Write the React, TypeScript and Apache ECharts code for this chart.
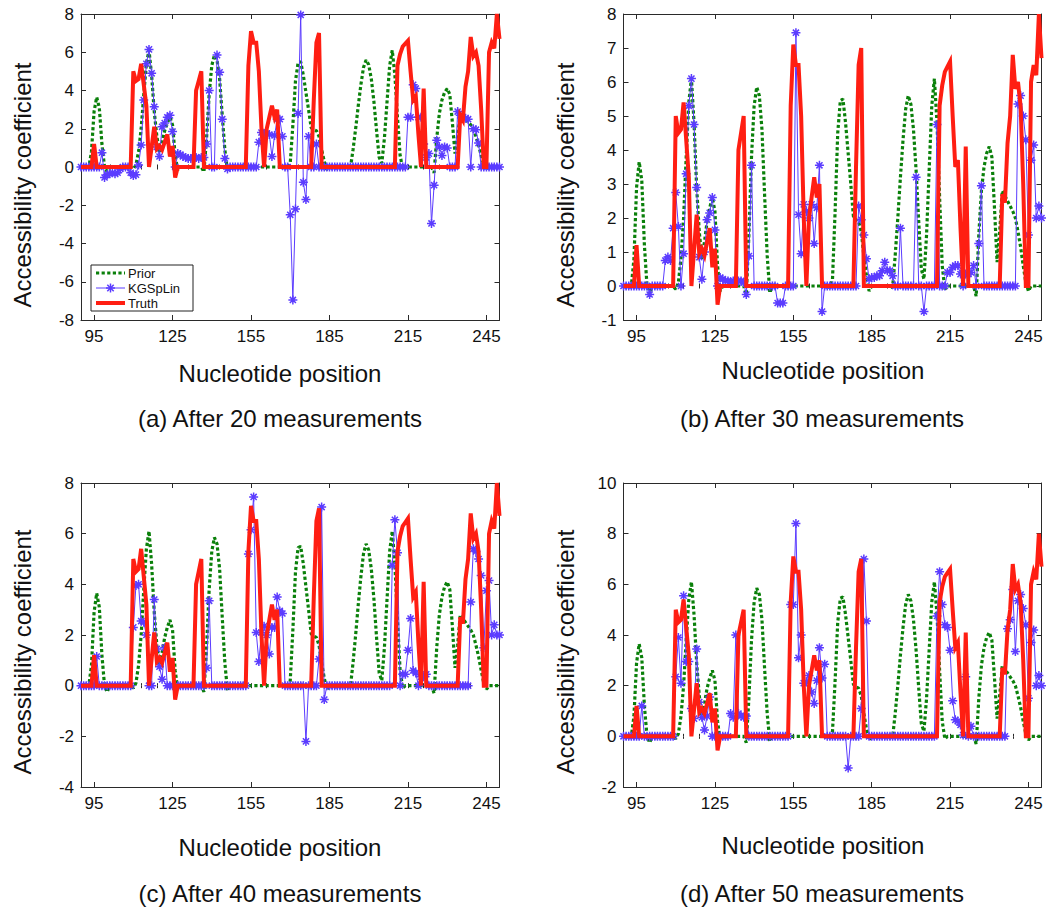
import React, { useEffect, useRef } from "react";
import * as echarts from "echarts";

// ---------- data ----------
const POSITIONS = [
  90, 91, 92, 93, 94, 95, 96, 97, 98, 99,
  100, 101, 102, 103, 104, 105, 106, 107, 108, 109,
  110, 111, 112, 113, 114, 115, 116, 117, 118, 119,
  120, 121, 122, 123, 124, 125, 126, 127, 128, 129,
  130, 131, 132, 133, 134, 135, 136, 137, 138, 139,
  140, 141, 142, 143, 144, 145, 146, 147, 148, 149,
  150, 151, 152, 153, 154, 155, 156, 157, 158, 159,
  160, 161, 162, 163, 164, 165, 166, 167, 168, 169,
  170, 171, 172, 173, 174, 175, 176, 177, 178, 179,
  180, 181, 182, 183, 184, 185, 186, 187, 188, 189,
  190, 191, 192, 193, 194, 195, 196, 197, 198, 199,
  200, 201, 202, 203, 204, 205, 206, 207, 208, 209,
  210, 211, 212, 213, 214, 215, 216, 217, 218, 219,
  220, 221, 222, 223, 224, 225, 226, 227, 228, 229,
  230, 231, 232, 233, 234, 235, 236, 237, 238, 239,
  240, 241, 242, 243, 244, 245, 246, 247, 248, 249,
  250,
];

const PRIOR = [
  0, 0, 0, 0, 0.8, 2.9, 3.65, 3.1, 1.2, 0,
  -0.25, 0, 0, 0, 0, 0, 0, 0, 0, 0,
  -0.1, 0.1, 0.8, 2.0, 3.8, 5.4, 6.1, 4.8, 2.9, 1.6,
  0.8, 1.3, 1.9, 2.3, 2.6, 2.2, 0.6, -0.15, 0, 0,
  0, 0, 0, 0, 0, 0, 0, -0.25, 1.5, 3.8,
  5.3, 5.85, 5.6, 4.6, 2.7, 0.9, -0.2, 0, 0, 0,
  0, 0, 0, 0, 0, 0, 0, 0, 0, 0,
  0, 0, 0, 0, 0, 0, 0, 0, 0, -0.05,
  0.2, 2.2, 4.5, 5.45, 5.5, 4.8, 3.9, 3.0, 2.05, 1.95,
  1.9, 1.6, 0.9, 0.3, -0.15, 0, 0, 0, 0, 0,
  0, 0, 0, -0.05, 0.9, 2.0, 3.2, 4.3, 5.2, 5.6,
  5.35, 4.6, 3.4, 1.9, 0.5, 0.2, 1.5, 3.4, 5.3, 6.1,
  4.8, 2.6, 0.6, -0.1, 0, 0, 0, 0, 0, 0,
  0, 0, 0, 0, 0, -0.3, 1.5, 2.8, 3.5, 3.9,
  4.1, 3.8, 2.3, 0.7, 1.6, 2.8, 2.65, 2.5, 2.35, 2.2,
  2.0, 1.6, 1.15, 0.6, 0.1, -0.15, 0, 0, 0, 0,
  0,
];

const TRUTH = [
  0, 0, 0, 0, 0, 1.2, 0, 0, 0, 0,
  0, 0, 0, 0, 0, 0, 0, 0, 0, 0,
  5.0, 4.5, 4.6, 5.4, 4.3, 3.2, 0, 1.05, 2.1, 0.95,
  1.1, 0.9, 1.3, 1.7, 0.55, 1.1, -0.55, 0, 0, 0,
  0, 0, 0, 0, 4.0, 4.5, 5.0, 0, 0, 0,
  0, 0, 0, 0, 0, 0, 0, 0, 0, 0,
  0, 0, 0, 0, 5.3, 7.1, 6.5, 6.5, 5.0, 2.0,
  0, 2.0, 2.6, 3.2, 2.6, 3.0, 0, 0, 0, 0,
  0, 0, 0, 0, 0, 0, 0, 0, 0, 3.5,
  6.5, 7.0, 0, 0, 0, 0, 0, 0, 0, 0,
  0, 0, 0, 0, 0, 0, 0, 0, 0, 0,
  0, 0, 0, 0, 0, 0, 0, 0, 0, 0,
  0, 5.3, 5.9, 6.3, 6.45, 6.6, 5.0, 3.5, 3.7, 1.7,
  0, 4.1, 0, 0, 0, 0, 0, 0, 0, 0,
  0, 0, 0, 0, 0, 2.7, 2.45, 4.2, 5.0, 6.8,
  5.8, 6.0, 5.3, 3.0, 0, 0, 6.0, 6.5, 6.2, 8.0,
  6.7,
];

const KGSPLIN_20 = [
  0, 0, 0, 0, 0, 0, 0, 0, 0.75, -0.55,
  -0.4, -0.35, -0.3, -0.35, -0.3, -0.1, 0, 0, 0, -0.3,
  -0.45, -0.4, 0.1, 1.15, 3.5, 5.4, 6.15, 4.9, 3.15, 1.05,
  0.55, 2.1, 2.3, 2.6, 2.7, 1.85, 0, 0.7, 0.65, 0.55,
  0.5, 0.45, 0.45, 0.5, 0.5, 0.45, 0.5, 0.5, 1.2, 4.0,
  0, 0, 5.85, 4.95, 2.5, 0.45, -0.1, 0, 0, 0,
  0, 0, 0, 0, 0, 0, 0, 0, 1.3, 1.8,
  1.75, 1.75, 1.7, 0.55, 1.65, 2.5, 2.5, 1.6, 0, 0,
  -2.5, -6.95, -2.2, 2.8, 7.95, -0.8, -1.7, 1.6, 0, 0,
  1.2, 0, 0, 0, 0, 0, 0, 0, 0, 0,
  0, 0, 0, 0, 0, 0, 0, 0, 0, 0,
  0, 0, 0, 0, 0, 0, 0, 0, 0, 0,
  0, 0, 0, 0, 0, 2.6, 2.6, 4.3, 4.1, 2.6,
  2.6, 1.2, 0.5, 0.7, -2.95, -0.95, 1.4, 1.05, 0.6, 1.05,
  1.0, 0, 0, 0, 2.9, 2.7, 2.6, 2.55, 2.5, 0,
  2.0, 1.95, 1.25, 0, 0, 0, 0, 0, 0, 0,
  0,
];

const KGSPLIN_30 = [
  0, 0, 0, 0, 0, 0, 0, 0, 0, 0,
  -0.25, 0, 0, 0, 0, 0, 0.75, 0.85, 0.75, 1.7,
  2.75, 1.75, 0, 0.95, 3.3, 5.3, 6.1, 4.75, 2.9, 0.85,
  0.2, 1.0, 1.95, 2.15, 2.6, 1.65, 0, 0.25, 0.2, 0.15,
  0.15, 0.12, 0.15, 0.12, 0.15, 0.15, 0.1, -0.25, 0.88, 3.55,
  0, 0, 0, 0, 0, 0, 0, 0, 0, -0.5,
  -0.5, -0.5, 0, 0, 0, 0, 7.45, 2.1, 0.95, 2.4,
  2.2, 2.0, 2.4, 1.25, 2.3, 3.55, -0.75, 0, 0, 0,
  0, 0, 0, 0, 0, 0, 0, 0, 0, 0,
  2.35, 1.95, 1.5, 0.8, 0.2, 0.25, 0.25, 0.3, 0.3, 0.45,
  0.7, 0.45, 0.45, 0.3, 0, 0, 1.7, 0, 0, 0,
  0, 0, 3.2, 0, 0, -0.75, 0, 0, 0, 0,
  4.75, 0, 0, 0, 0.4, 0.4, 0.55, 0.6, 0.6, 0.35,
  0, 0.35, 0.35, 0.4, 0.6, 0, 1.25, 2.95, 0, 0,
  0, 0, 0, 0, 0, 0, 0, 0, 0, 0,
  0, 5.35, 5.6, 5.0, 4.3, 1.5, 3.7, 4.15, 2.0, 2.35,
  2.0,
];

const KGSPLIN_40 = [
  0, 0, 0, 0, 0, 0, 1.15, 0, 0, 0,
  0, 0, 0, 0, 0, 0, 0, 0, 0, 0,
  2.3, 3.95, 4.0, 2.55, 2.5, 2.0, 0, 0, 3.4, 1.45,
  0.75, 0.25, 1.5, 0, 0, 0, 0, 0, 0, 0,
  0, 0, 0, 0, 0, 0, 0, 0, 0.7, 3.35,
  0, 0, 0, 0, 0, 0, 0, 0, 0, 0,
  0, 0, 0, 0, 5.2, 6.15, 7.45, 2.1, 0.95, 2.1,
  2.35, 2.0, 1.25, 2.3, 2.3, 3.5, 2.95, 2.85, 0, 0,
  0, 0, 0, 0, 0, 0, -2.2, 0, 0, 0,
  0, 1.05, 7.05, -0.55, 0, 0, 0, 0, 0, 0,
  0, 0, 0, 0, 0, 0, 0, 0, 0, 0,
  0, 0, 0, 0, 0, 0, 0, 0, 0, 4.75,
  6.55, 5.25, 0, 0.45, 0.45, 1.4, 2.65, 0.6, 0.5, 0,
  0.35, 0.35, 0.45, 0, 0, 0, 0, 0, 0, 0,
  0, 0, 0, 0, 0, 0, 0, 0, 0, 3.3,
  5.4, 5.3, 5.0, 4.35, 1.5, 3.75, 4.15, 2.0, 2.4, 2.0,
  2.0,
];

const KGSPLIN_50 = [
  0, 0, 0, 0, 0, 0, 0, 1.2, 0, 0,
  0, 0, 0, 0, 0, 0, 0, 0, 0, 0,
  2.35, 3.9, 2.1, 5.55, 2.95, 2.95, 1.1, 0.7, 3.45, 1.35,
  0.75, 0.25, 0.8, 1.55, 0, 0, 0, 0, 0, 0,
  0, 0.9, 0.75, 4.0, 0.9, 0.8, 0.75, 0.8, 0, 0,
  0, 0, 0, 0, 0, 0, 0, 0, 0, 0,
  0, 0, 0, 0, 5.2, 5.2, 8.4, 3.1, 4.0, 2.1,
  2.15, 2.4, 1.75, 1.3, 2.2, 3.5, 2.3, 2.85, 0, 0,
  0, 0, 0, 0, 0, 0, -1.25, 0, 0, 0,
  0, 1.1, 7.0, 4.55, 0, 0, 0, 0, 0, 0,
  0, 0, 0, 0, 0, 0, 0, 0, 0, 0,
  0, 0, 0, 0, 0, 0, 0, 0, 0, 0,
  4.75, 6.5, 5.2, 4.4, 4.3, 3.4, 1.4, 0.65, 0.6, 0.45,
  0.05, 2.35, 0, 0.4, 0, 0, 0, 0, 0, 0,
  0, 0, 0, 0, 0, 0, 0, 4.25, 4.6, 5.8,
  3.35, 5.35, 5.6, 5.05, 4.4, 1.5, 3.7, 4.2, 2.0, 2.4,
  2.0,
];

const X_MAJOR_TICKS = [95, 125, 155, 185, 215, 245];
const X_MINOR_TICKS = [
  95, 101, 107, 113, 119, 125, 131, 137, 143, 149, 155, 161, 167,
  173, 179, 185, 191, 197, 203, 209, 215, 221, 227, 233, 239, 245,
];

const SERIES_NAMES = ["Prior", "KGSpLin", "Truth"];
const CAPTIONS = [
  "(a) After 20 measurements",
  "(b) After 30 measurements",
  "(c) After 40 measurements",
  "(d) After 50 measurements",
];
const X_TITLE = "Nucleotide position";
const Y_TITLE = "Accessibility coefficient";

// ---------- layout / style ----------
const FONT = "'Liberation Sans', Arial, Helvetica, sans-serif";
const GREEN = "#0a800a";
const BLUE = "#5b3cff";
const RED = "#ff1e12";
const AX = "#2a2a2a";
const TXT = "#111";

const PANELS = [
  { kgs: KGSPLIN_20, left: 81, top: 14, width: 418.5, height: 306, ymin: -8, ymax: 8, ystep: 2,
    yTitle: [22, 185], xTitle: [280, 373], caption: [280, 418] },
  { kgs: KGSPLIN_30, left: 623.5, top: 14, width: 418, height: 306, ymin: -1, ymax: 8, ystep: 1,
    yTitle: [565, 185], xTitle: [823, 370], caption: [822, 418] },
  { kgs: KGSPLIN_40, left: 81, top: 483, width: 418.5, height: 304, ymin: -4, ymax: 8, ystep: 2,
    yTitle: [22, 652], xTitle: [280, 847], caption: [280, 893] },
  { kgs: KGSPLIN_50, left: 623.5, top: 483, width: 418, height: 304, ymin: -2, ymax: 10, ystep: 2,
    yTitle: [565, 652], xTitle: [823, 845], caption: [822, 893] },
];

const STAR =
  "path://M5 0L5 10M0 5L10 5M1.6 1.6L8.4 8.4M1.6 8.4L8.4 1.6";

function pairs(values: number[]) {
  return POSITIONS.map((x, k) => [x, values[k]]);
}

function buildOption() {
  const grid: any[] = [];
  const xAxis: any[] = [];
  const yAxis: any[] = [];
  const series: any[] = [];
  const graphic: any[] = [];

  PANELS.forEach((p, i) => {
    grid.push({ left: p.left, top: p.top, width: p.width, height: p.height, containLabel: false });
    const xBase = {
      type: "value",
      gridIndex: i,
      min: 90,
      max: 250,
      splitLine: { show: false },
      axisLine: { show: true, onZero: false, lineStyle: { color: AX, width: 1 } },
    };
    xAxis.push({
      ...xBase,
      position: "bottom",
      axisTick: { show: true, inside: true, length: 5, customValues: X_MAJOR_TICKS, lineStyle: { color: AX } },
      axisLabel: { show: true, customValues: X_MAJOR_TICKS, fontSize: 17, color: TXT, fontFamily: FONT, margin: 8 },
    });
    xAxis.push({
      ...xBase,
      position: "bottom",
      axisLine: { show: false },
      axisTick: { show: true, inside: true, length: 2.5, customValues: X_MINOR_TICKS, lineStyle: { color: AX } },
      axisLabel: { show: false },
    });
    xAxis.push({
      ...xBase,
      position: "top",
      axisTick: { show: true, inside: true, length: 5, customValues: X_MAJOR_TICKS, lineStyle: { color: AX } },
      axisLabel: { show: false },
    });
    xAxis.push({
      ...xBase,
      position: "top",
      axisLine: { show: false },
      axisTick: { show: true, inside: true, length: 2.5, customValues: X_MINOR_TICKS, lineStyle: { color: AX } },
      axisLabel: { show: false },
    });
    const yBase = {
      type: "value",
      gridIndex: i,
      min: p.ymin,
      max: p.ymax,
      interval: p.ystep,
      splitLine: { show: false },
      axisLine: { show: true, onZero: false, lineStyle: { color: AX, width: 1 } },
      axisTick: { show: true, inside: true, length: 5, lineStyle: { color: AX } },
    };
    yAxis.push({
      ...yBase,
      position: "left",
      axisLabel: { show: true, fontSize: 17, color: TXT, fontFamily: FONT, margin: 7 },
    });
    yAxis.push({
      ...yBase,
      position: "right",
      axisLabel: { show: false },
    });

    const xi = i * 4;
    const yi = i * 2;
    series.push({
      name: SERIES_NAMES[0],
      type: "line",
      xAxisIndex: xi,
      yAxisIndex: yi,
      data: pairs(PRIOR),
      symbol: "none",
      silent: true,
      lineStyle: { color: GREEN, width: 3.2, type: [3.2, 2.4], cap: "butt" },
      z: 2,
    });
    series.push({
      name: SERIES_NAMES[1],
      type: "line",
      xAxisIndex: xi,
      yAxisIndex: yi,
      data: pairs(p.kgs),
      symbol: STAR,
      symbolSize: 9,
      showSymbol: true,
      silent: true,
      lineStyle: { color: BLUE, width: 1 },
      itemStyle: { color: "rgba(0,0,0,0)", borderColor: BLUE, borderWidth: 1.5 },
      z: 3,
    });
    series.push({
      name: SERIES_NAMES[2],
      type: "line",
      xAxisIndex: xi,
      yAxisIndex: yi,
      data: pairs(TRUTH),
      symbol: "none",
      silent: true,
      lineStyle: { color: RED, width: 4, join: "miter" },
      z: 4,
    });

    graphic.push({
      type: "text",
      x: p.yTitle[0],
      y: p.yTitle[1],
      rotation: Math.PI / 2,
      style: { text: Y_TITLE, fill: TXT, fontSize: 24, fontFamily: FONT, align: "center", verticalAlign: "middle" },
    });
    graphic.push({
      type: "text",
      x: p.xTitle[0],
      y: p.xTitle[1],
      style: { text: X_TITLE, fill: TXT, fontSize: 24, fontFamily: FONT, align: "center", verticalAlign: "middle" },
    });
    graphic.push({
      type: "text",
      x: p.caption[0],
      y: p.caption[1],
      style: { text: CAPTIONS[i], fill: TXT, fontSize: 24, fontFamily: FONT, align: "center", verticalAlign: "middle" },
    });
  });

  // legend box (panel a)
  const lx = 91, ly = 265;
  const rows = [273, 288, 303];
  const legend: any[] = [
    { type: "rect", shape: { x: lx, y: ly, width: 102, height: 46 }, style: { fill: "#fff", stroke: "#222", lineWidth: 1 } },
    { type: "line", shape: { x1: 96, y1: rows[0], x2: 125, y2: rows[0] }, style: { stroke: GREEN, lineWidth: 3.2, lineDash: [3.2, 2.4] } },
    { type: "line", shape: { x1: 96, y1: rows[1], x2: 125, y2: rows[1] }, style: { stroke: BLUE, lineWidth: 1 } },
    { type: "line", shape: { x1: 110.5, y1: rows[1] - 4.5, x2: 110.5, y2: rows[1] + 4.5 }, style: { stroke: BLUE, lineWidth: 1.5 } },
    { type: "line", shape: { x1: 106, y1: rows[1], x2: 115, y2: rows[1] }, style: { stroke: BLUE, lineWidth: 1.5 } },
    { type: "line", shape: { x1: 107.3, y1: rows[1] - 3.2, x2: 113.7, y2: rows[1] + 3.2 }, style: { stroke: BLUE, lineWidth: 1.5 } },
    { type: "line", shape: { x1: 107.3, y1: rows[1] + 3.2, x2: 113.7, y2: rows[1] - 3.2 }, style: { stroke: BLUE, lineWidth: 1.5 } },
    { type: "line", shape: { x1: 96, y1: rows[2], x2: 125, y2: rows[2] }, style: { stroke: RED, lineWidth: 4 } },
  ];
  SERIES_NAMES.forEach((n, k) => {
    legend.push({
      type: "text",
      x: 128,
      y: rows[k],
      style: { text: n, fill: TXT, fontSize: 13, fontFamily: FONT, align: "left", verticalAlign: "middle" },
    });
  });
  graphic.push({ type: "group", z: 100, children: legend });

  return {
    animation: false,
    backgroundColor: "#ffffff",
    textStyle: { fontFamily: FONT },
    grid,
    xAxis,
    yAxis,
    series,
    graphic,
  };
}

export default function App() {
  const ref = useRef<HTMLDivElement | null>(null);
  useEffect(() => {
    document.body.style.margin = "0";
    if (!ref.current) return;
    const chart = echarts.init(ref.current, undefined, { renderer: "svg" });
    chart.setOption(buildOption() as any);
    return () => chart.dispose();
  }, []);
  return <div ref={ref} style={{ width: 1047, height: 911, background: "#fff" }} />;
}
